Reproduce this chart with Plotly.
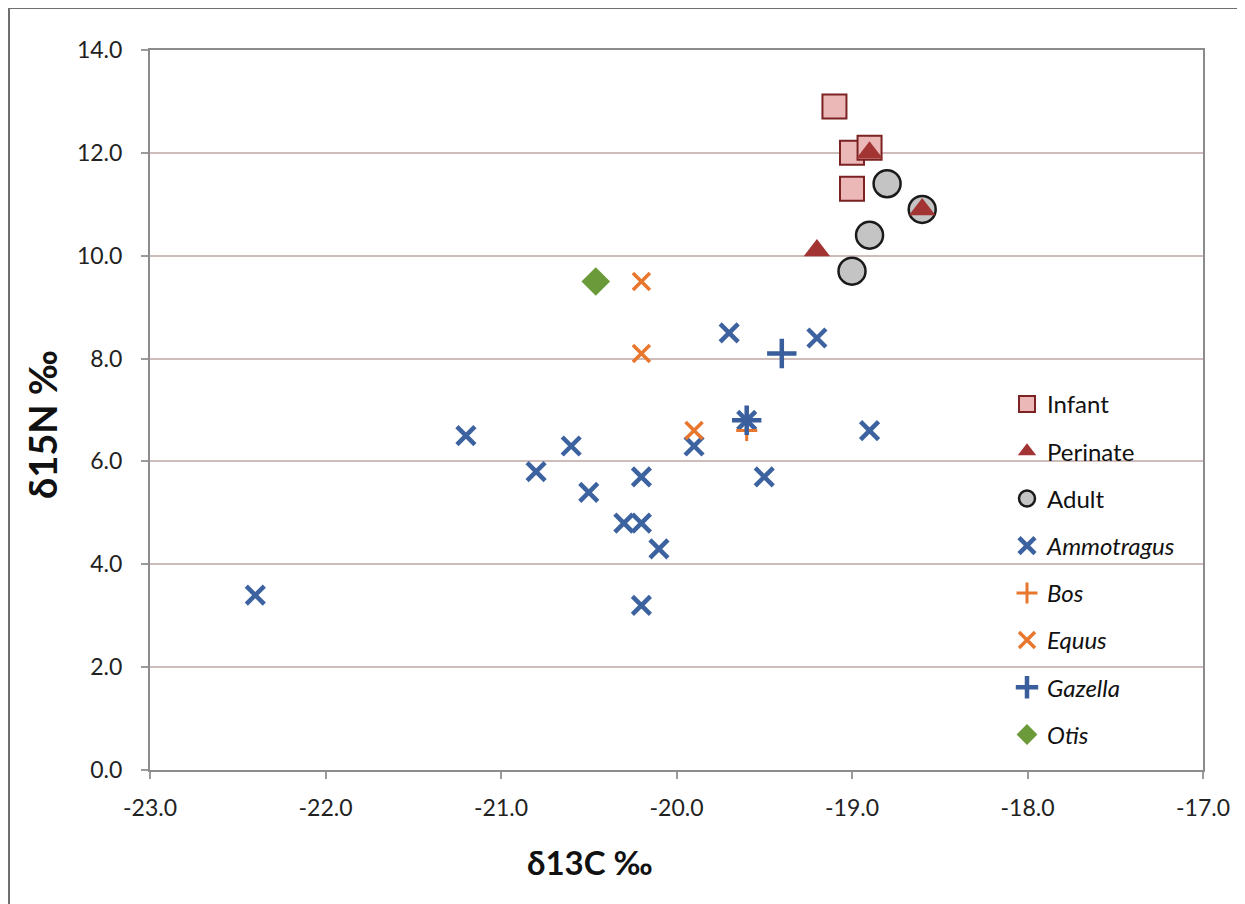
import plotly.graph_objects as go

# ---- data ----
infant_x = [-19.1, -19.0, -18.9, -19.0]
infant_y = [12.9, 12.0, 12.1, 11.3]

perinate_x = [-18.9, -18.6, -19.2]
perinate_y = [12.0, 10.9, 10.1]

adult_x = [-18.8, -18.6, -18.9, -19.0]
adult_y = [11.4, 10.9, 10.4, 9.7]

ammotragus_x = [-22.4, -21.2, -20.8, -20.6, -20.5, -20.3, -20.2, -20.2, -20.2, -20.1,
                -19.9, -19.7, -19.6, -19.5, -19.2, -18.9]
ammotragus_y = [3.4, 6.5, 5.8, 6.3, 5.4, 4.8, 4.8, 5.7, 3.2, 4.3,
                6.3, 8.5, 6.8, 5.7, 8.4, 6.6]

bos_x = [-19.6]
bos_y = [6.6]

equus_x = [-20.2, -20.2, -19.9]
equus_y = [9.5, 8.1, 6.6]

gazella_x = [-19.4, -19.6]
gazella_y = [8.1, 6.8]

otis_x = [-20.46]
otis_y = [9.5]

x_ticks = [-23.0, -22.0, -21.0, -20.0, -19.0, -18.0, -17.0]
y_ticks = [0.0, 2.0, 4.0, 6.0, 8.0, 10.0, 12.0, 14.0]

FONT = "Lato"
BLUE = "#3c62a0"
ORANGE = "#e8762d"

fig = go.Figure()

def add(name, xs, ys, marker, rank):
    fig.add_trace(go.Scatter(
        x=xs, y=ys, mode="markers", name=name, marker=marker,
        legendrank=rank, legendgroup=name, showlegend=True,
    ))

add("Infant", infant_x, infant_y,
    dict(symbol="square", size=24, color="#ebb7b7", line=dict(color="#7b2222", width=2)), 1)
add("Adult", adult_x, adult_y,
    dict(symbol="circle", size=27, color="#c4c4c4", line=dict(color="#1a1a1a", width=2.5)), 3)
add("Perinate", perinate_x, perinate_y,
    dict(symbol="triangle-up", size=23, color="#a33434", line=dict(width=0)), 2)
add("<i>Ammotragus</i>", ammotragus_x, ammotragus_y,
    dict(symbol="x-thin", size=18, line=dict(color=BLUE, width=4.5), color=BLUE), 4)
add("<i>Equus</i>", equus_x, equus_y,
    dict(symbol="x-thin", size=17, line=dict(color=ORANGE, width=3.5), color=ORANGE), 6)
add("<i>Bos</i>", bos_x, bos_y,
    dict(symbol="cross-thin", size=15, line=dict(color=ORANGE, width=3), color=ORANGE), 5)
add("<i>Gazella</i>", gazella_x, gazella_y,
    dict(symbol="cross-thin", size=21, line=dict(color="#3a5d9c", width=4.5), color="#3a5d9c"), 7)
add("<i>Otis</i>", otis_x, otis_y,
    dict(symbol="diamond", size=22, color="#6b9a3a", line=dict(width=0)), 8)

fig.update_layout(
    width=1237, height=896,
    margin=dict(l=142, r=42, t=42, b=134),
    paper_bgcolor="white", plot_bgcolor="white",
    font=dict(family=FONT, size=23, color="#222222"),
    showlegend=True,
    legend=dict(
        x=(1007 - 150) / 1053, y=(770 - 382) / 720, xanchor="left", yanchor="top",
        font=dict(family=FONT, size=24, color="#111111"),
        tracegroupgap=13, traceorder="grouped",
        bgcolor="rgba(0,0,0,0)",
    ),
    xaxis=dict(
        range=[-23, -17], tickvals=x_ticks,
        ticktext=[f"{v:.1f}" for v in x_ticks],
        showgrid=False, zeroline=False,
        showline=True, linecolor="#8c8c8c", linewidth=2, mirror=True,
        ticks="outside", ticklen=7, tickcolor="#9a9a9a", tickwidth=1.5,
        ticklabelstandoff=9,
        tickfont=dict(family=FONT, size=23, color="#222222"),
    ),
    yaxis=dict(
        range=[0, 14], tickvals=y_ticks,
        ticktext=[f"{v:.1f}" for v in y_ticks],
        showgrid=True, gridcolor="#cdbcba", gridwidth=1.5, zeroline=False,
        showline=True, linecolor="#8c8c8c", linewidth=2, mirror=True,
        ticks="outside", ticklen=7, tickcolor="#9a9a9a", tickwidth=1.5,
        ticklabelstandoff=14,
        tickfont=dict(family=FONT, size=23, color="#222222"),
    ),
)

fig.add_annotation(
    text="<b>δ13C ‰</b>", xref="paper", yref="paper",
    x=(590 - 150) / 1053, y=(770 - 862) / 720, showarrow=False,
    xanchor="center", yanchor="middle",
    font=dict(family=FONT, size=33, color="#111111"),
)
fig.add_annotation(
    text="<b>δ15N ‰</b>", xref="paper", yref="paper",
    x=(42 - 150) / 1053, y=(770 - 425) / 720, showarrow=False, textangle=-90,
    xanchor="center", yanchor="middle",
    font=dict(family=FONT, size=38, color="#111111"),
)

# outer frame of the figure (top and left edges visible in the reference)
fig.add_shape(type="line", xref="paper", yref="paper",
              x0=(9 - 150) / 1053, x1=(1245 - 150) / 1053,
              y0=(770 - 8) / 720, y1=(770 - 8) / 720,
              line=dict(color="#6f6f6f", width=2))
fig.add_shape(type="line", xref="paper", yref="paper",
              x0=(9 - 150) / 1053, x1=(9 - 150) / 1053,
              y0=(770 - 8) / 720, y1=(770 - 904) / 720,
              line=dict(color="#6f6f6f", width=2))

fig.write_html("out.html")
